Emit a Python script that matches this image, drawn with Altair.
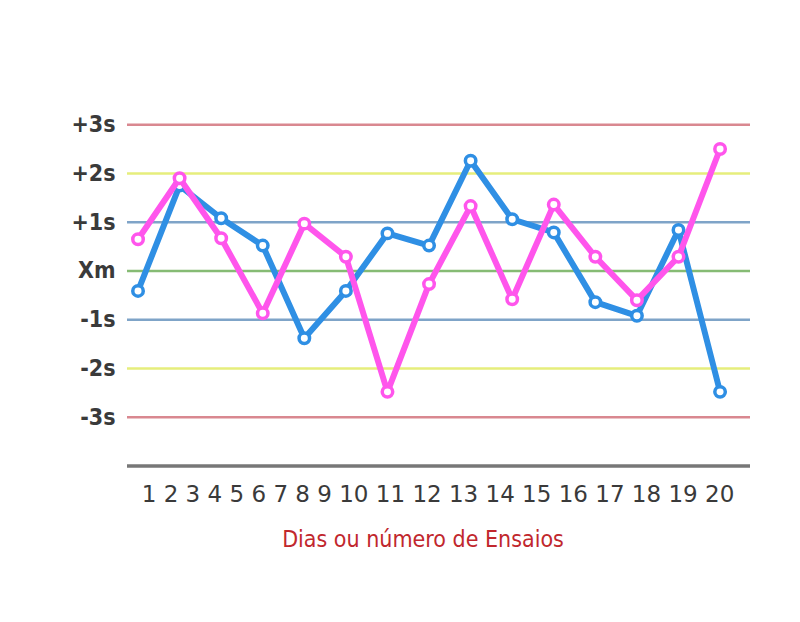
import json
import altair as alt
import pandas as pd

# ---- data ----
levels = [3, 2, 1, 0, -1, -2, -3]
level_labels = ["+3s", "+2s", "+1s", "Xm", "-1s", "-2s", "-3s"]
level_colors = ["#d98890", "#e6ee7c", "#7fa4c8", "#86bb74", "#7fa4c8", "#e6ee7c", "#d98890"]
base_level = [-4]

runs = list(range(1, 16))
blue_vals = [-0.41, 1.75, 1.08, 0.52, -1.38, -0.41, 0.77, 0.52, 2.26, 1.06, 0.79, -0.64, -0.92, 0.84, -2.48]
pink_vals = [0.65, 1.90, 0.67, -0.87, 0.97, 0.29, -2.48, -0.27, 1.33, -0.58, 1.36, 0.29, -0.60, 0.29, 2.50]

tick_labels = [str(i) for i in range(1, 21)]
x_title = "Dias ou número de Ensaios"

BLUE = "#2f8fe4"
PINK = "#ff55ec"
FONT = "DejaVu Sans Condensed"

levels_df = pd.DataFrame({"level": levels, "label": level_labels, "color": level_colors})
series_df = pd.concat([
    pd.DataFrame({"run": runs, "value": blue_vals, "series": "A"}),
    pd.DataFrame({"run": runs, "value": pink_vals, "series": "B"}),
])

xs = alt.Scale(domain=[0.735, 15.72], nice=False, zero=False)
ys = alt.Scale(domain=[-4, 3.3], nice=False, zero=False)

# label lookup expression built from the lists (array indexed by level + 3)
ordered = [lab for _, lab in sorted(zip(levels, level_labels))]
lab_expr = f"{json.dumps(ordered)}[datum.value + 3]"

yaxis = alt.Axis(values=levels, labelExpr=lab_expr,
                 title=None, ticks=False, domain=False, grid=False,
                 labelPadding=12, labelFontSize=23, labelFont=FONT,
                 labelFontWeight="bold", labelColor="#3a3a3a")

rules = alt.Chart(levels_df).mark_rule(strokeWidth=2.5).encode(
    y=alt.Y("level:Q", scale=ys, axis=yaxis, title=None),
    color=alt.Color("color:N", scale=None),
)

base_rule = alt.Chart(pd.DataFrame({"level": base_level})).mark_rule(
    strokeWidth=3.5, color="#777777"
).encode(y=alt.Y("level:Q", scale=ys, axis=yaxis, title=None))

def series_layers(key, color):
    src = alt.Chart(series_df).transform_filter(alt.datum.series == key)
    enc = dict(
        x=alt.X("run:Q", scale=xs, axis=None),
        y=alt.Y("value:Q", scale=ys, axis=yaxis, title=None),
    )
    line = src.mark_line(strokeWidth=6, color=color, strokeJoin="round").encode(**enc)
    pts = src.mark_point(filled=True, fill="white", stroke=color, strokeWidth=3.5,
                         size=110, opacity=1).encode(**enc)
    return [line, pts]

ticks_text = alt.Chart(pd.DataFrame({"t": [" ".join(tick_labels)]})).mark_text(
    font="DejaVu Sans", fontSize=23, color="#3a3a3a", align="center", baseline="alphabetic"
).encode(text="t:N", x=alt.value(311), y=alt.value(392))

title_text = alt.Chart(pd.DataFrame({"t": [x_title]})).mark_text(
    font=FONT, fontSize=23, color="#c1272d", align="center", baseline="alphabetic"
).encode(text="t:N", x=alt.value(296), y=alt.value(437))

chart = alt.layer(
    rules, base_rule,
    *series_layers("A", BLUE),
    *series_layers("B", PINK),
    ticks_text, title_text,
).properties(
    width=623, height=356,
    autosize=alt.AutoSizeParams(type="none"),
    padding={"left": 119, "top": 102, "right": 42, "bottom": 148},
    background="white",
).configure_view(stroke=None)

chart.save("out.html", embed_options={"renderer": "svg", "actions": False})
